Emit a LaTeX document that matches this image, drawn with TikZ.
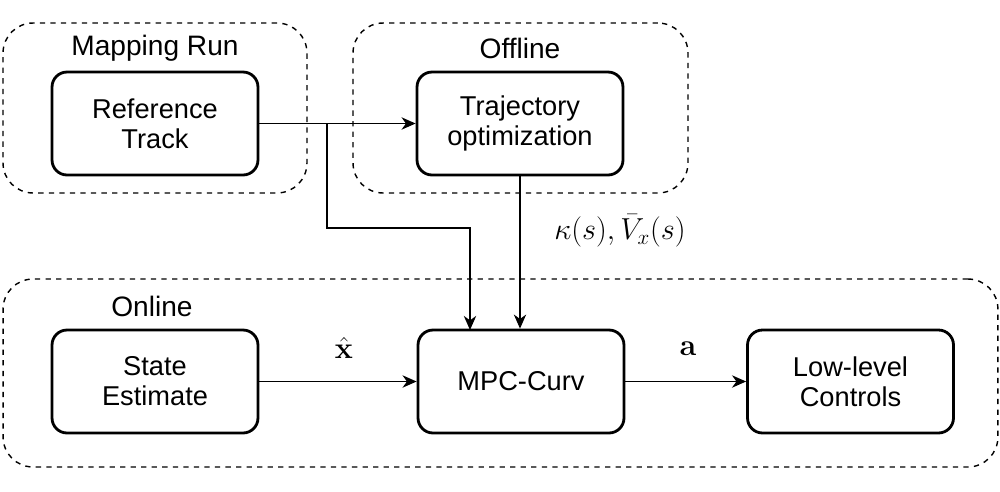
\documentclass[tikz,border=0pt]{standalone}
\usepackage[no-math]{fontspec}
\setmainfont{Liberation Sans}
\usetikzlibrary{arrows.meta}
\begin{document}
\begin{tikzpicture}[x=0.02cm,y=-0.02cm,
  blockbox/.style={draw, line width=1.6pt, rounded corners=0.3cm, minimum width=4.12cm, minimum height=2.06cm, align=center, inner sep=0pt, font=\fontsize{15.5}{17}\selectfont},
  groupbox/.style={draw, dashed, line width=0.8pt, rounded corners=0.6cm, inner sep=0pt},
  grouptitle/.style={font=\fontsize{16}{18}\selectfont, inner sep=0pt},
  mathlabel/.style={font=\fontsize{18}{20}\selectfont, inner sep=0pt},
  conn/.style={line width=1.1pt, -{Stealth[length=8pt,width=7pt,inset=2.5pt]}},
  thinconn/.style={line width=0.6pt, -{Stealth[length=8pt,width=7pt,inset=2.5pt]}}]
\useasboundingbox (0,0) rectangle (1000,491);
% groups
\node[groupbox, minimum width=6.08cm, minimum height=3.4cm] (gmap) at (155,108) {};
\node[groupbox, minimum width=6.7cm, minimum height=3.4cm] (goff) at (520.5,108) {};
\node[groupbox, minimum width=19.9cm, minimum height=3.76cm] (gon) at (500.5,373) {};
\node[grouptitle] (tmap) at (155,48) {Mapping Run};
\node[grouptitle] (toff) at (520,48) {Offline};
\node[grouptitle] (ton) at (152,306) {Online};
% blocks
\node[blockbox] (ref) at (155,123.5) {Reference\\Track};
\node[blockbox] (traj) at (520,123.5) {Trajectory\\optimization};
\node[blockbox] (state) at (155,381.5) {State\\Estimate};
\node[blockbox] (mpc) at (521,381.5) {MPC-Curv};
\node[blockbox] (low) at (850.5,381.5) {Low-level\\Controls};
% connectors
\draw[conn] (ref.east) -- (traj.west);
\coordinate (split) at (327,123.5);
\coordinate (mpcA) at (470,330);
\draw[conn] (split) -- (327,228) -| (mpcA);
\draw[thinconn] (traj.south) -- (traj.south |- mpc.north);
\draw[conn] (state.east) -- (mpc.west);
\draw[conn] (mpc.east) -- (low.west);
% labels
\node[mathlabel] (lk) at (620,231) {$\kappa(s), \bar{V}_x(s)$};
\node[mathlabel] (lx) at (344,348) {$\hat{\mathbf{x}}$};
\node[mathlabel] (la) at (688,349) {$\mathbf{a}$};
\end{tikzpicture}
\end{document}
